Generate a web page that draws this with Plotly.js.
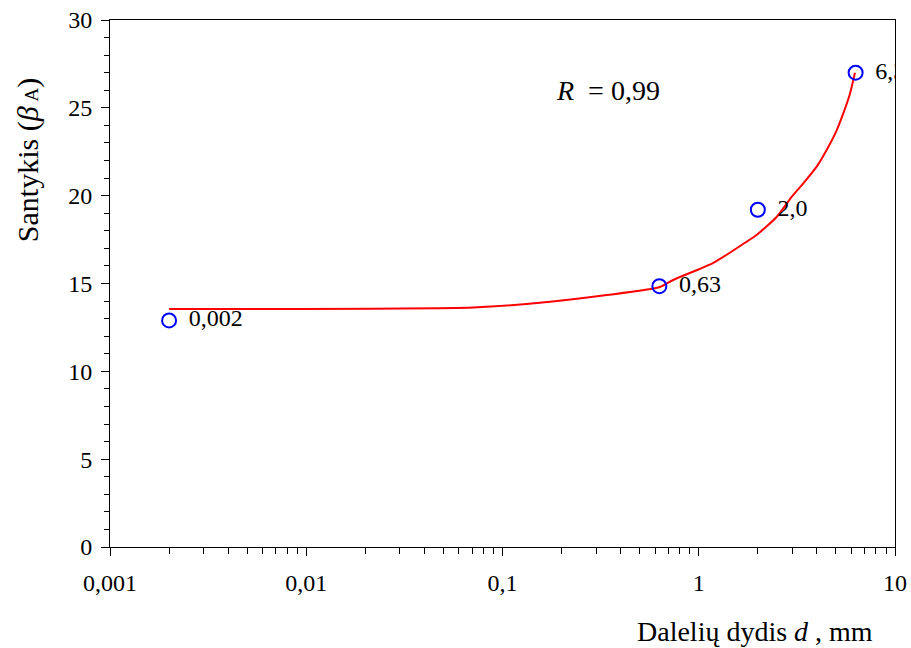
<!DOCTYPE html>
<html>
<head>
<meta charset="utf-8">
<script src="https://cdn.plot.ly/plotly-3.0.1.min.js"></script>
<style>html,body{margin:0;padding:0;background:#fff;}#chart{width:911px;height:648px;}</style>
</head>
<body>
<div id="chart"></div>
<script>
// Measured points (particle size d, mm; ratio beta_A)
const pointD = [0.002, 0.63, 2.0, 6.3];
const pointBeta = [12.9, 14.85, 19.2, 27.0];
const pointLabels = ["0,002", "0,63", "2,0", "6,3"];

// Fitted curve
const fitD = [0.002, 0.071, 0.155, 0.34, 0.635, 0.74, 1.18, 1.72, 1.97, 2.5, 2.98, 3.41, 3.99, 4.58, 5.05, 5.45, 5.9, 6.25];
const fitBeta = [13.55, 13.64, 13.9, 14.34, 14.8, 15.2, 16.16, 17.32, 17.76, 18.8, 19.94, 20.7, 21.65, 22.78, 23.73, 24.68, 25.82, 27.0];

// Axis ticks
const xTickVals = [0.001, 0.01, 0.1, 1, 10];
const xTickText = ["0,001", "0,01", "0,1", "1", "10"];
const xMinorDigits = [2, 3, 4, 5, 6, 7, 8, 9];
const yTickVals = [0, 5, 10, 15, 20, 25, 30];

const xMinorVals = [];
[0.001, 0.01, 0.1, 1].forEach(dec => xMinorDigits.forEach(m => xMinorVals.push(dec * m)));

const serif = "'Times New Roman', 'Liberation Serif', serif";

const traces = [
  {
    x: fitD, y: fitBeta, type: "scatter", mode: "lines",
    line: {color: "#ff0000", width: 2, shape: "spline", smoothing: 0.6},
    hoverinfo: "skip", showlegend: false
  },
  {
    x: pointD, y: pointBeta, type: "scatter", mode: "markers+text",
    text: pointLabels.map(t => "\u00a0\u2006" + t), textposition: "middle right",
    textfont: {family: serif, size: 24, color: "#000"},
    marker: {symbol: "circle-open", size: 14, color: "#0000ff", line: {width: 2, color: "#0000ff"}},
    cliponaxis: true, showlegend: false
  }
];

const layout = {
  width: 911, height: 648,
  margin: {l: 110, r: 16, t: 20, b: 101},
  paper_bgcolor: "#fff", plot_bgcolor: "#fff",
  font: {family: serif, size: 24, color: "#000"},
  showlegend: false,
  xaxis: {
    type: "log", range: [-3, 1],
    tickmode: "array", tickvals: xTickVals, ticktext: xTickText,
    ticks: "outside", ticklen: 8, tickwidth: 1, tickcolor: "#000",
    ticklabelstandoff: 6,
    minor: {tickmode: "array", tickvals: xMinorVals, ticks: "outside", ticklen: 6, tickwidth: 1, tickcolor: "#000", showgrid: false},
    showgrid: false, zeroline: false,
    showline: true, linecolor: "#000", linewidth: 1, mirror: true,
    tickfont: {family: serif, size: 24, color: "#000"}
  },
  yaxis: {
    range: [0, 30],
    tickmode: "array", tickvals: yTickVals,
    ticks: "outside", ticklen: 8, tickwidth: 1, tickcolor: "#000",
    ticklabelstandoff: 4,
    minor: {dtick: 1, ticks: "outside", ticklen: 5, tickwidth: 1, tickcolor: "#000", showgrid: false},
    showgrid: false, zeroline: false,
    showline: true, linecolor: "#000", linewidth: 1, mirror: true,
    tickfont: {family: serif, size: 24, color: "#000"}
  },
  annotations: [
    {
      text: "Santykis (<i>β</i><span style=\"font-size:19px\"> A</span>)",
      textangle: -90,
      xref: "paper", yref: "paper", x: -0.1045, y: 0.734,
      xanchor: "center", yanchor: "middle", showarrow: false,
      font: {family: serif, size: 30, color: "#000"}
    },
    {
      text: "Dalelių dydis <i>d</i> , mm",
      xref: "paper", yref: "paper", x: 0.975, y: -0.161,
      xanchor: "right", yanchor: "middle", showarrow: false,
      font: {family: serif, size: 28, color: "#000"}
    },
    {
      text: "<i>R</i>  = 0,99",
      xref: "paper", yref: "paper", x: 0.566, y: 0.866,
      xanchor: "left", yanchor: "middle", showarrow: false,
      font: {family: serif, size: 28, color: "#000"}
    }
  ]
};

Plotly.newPlot("chart", traces, layout, {displayModeBar: false, staticPlot: true});
</script>
</body>
</html>
